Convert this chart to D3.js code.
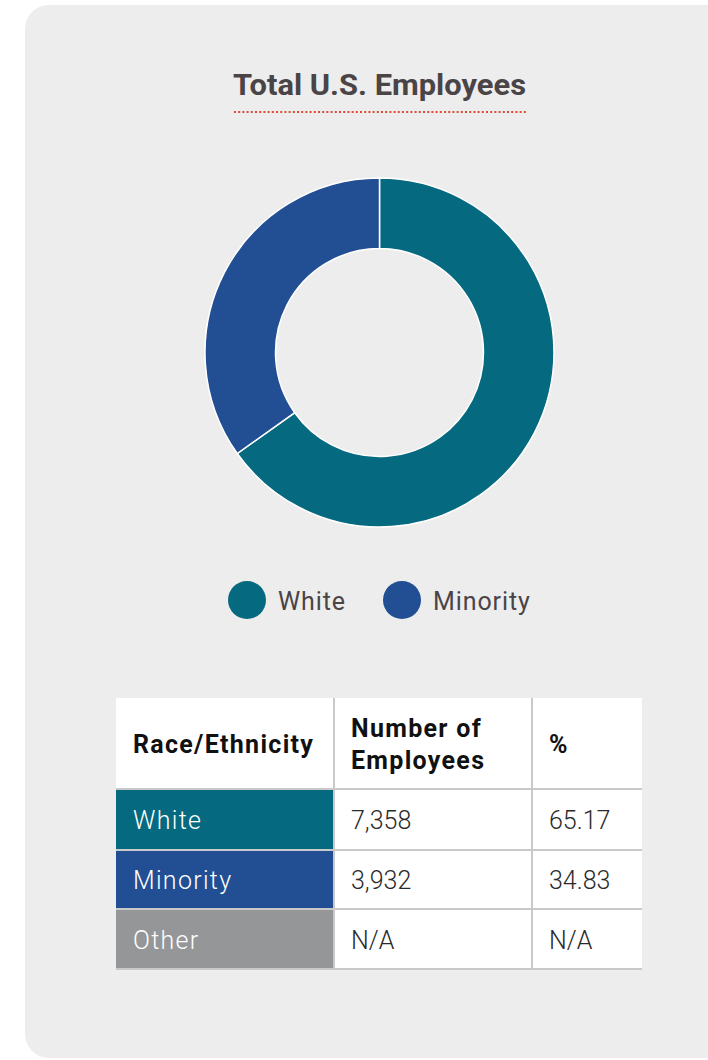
<!DOCTYPE html>
<html><head><meta charset="utf-8">
<script src="https://cdn.jsdelivr.net/npm/d3@7"></script>
<style>
html,body{margin:0;padding:0;background:#fff;}
svg{display:block;}
</style></head>
<body>
<svg id="chart" width="708" height="1060"></svg>
<script>
const title = "Total U.S. Employees";
const categories = ["White", "Minority"];
const employees = [7358, 3932];
const percents = [65.17, 34.83];
const tableCategories = ["White", "Minority", "Other"];
const tableNumbers = ["7,358", "3,932", "N/A"];
const tablePercents = ["65.17", "34.83", "N/A"];
const tableHeaders = [["Race/Ethnicity"], ["Number of", "Employees"], ["%"]];
const colors = ["#056a80", "#224e93", "#959698"];

const svg = d3.select("#chart");
const font = "Roboto, 'Noto Sans', sans-serif";
const textCol = "#4a4446";

// card
svg.append("rect").attr("x", 25).attr("y", 5).attr("width", 720).attr("height", 1053)
  .attr("rx", 24).attr("fill", "#ededed");

// title
svg.append("text").attr("x", 233).attr("y", 95).text(title)
  .attr("font-family", font).attr("font-weight", 700).attr("font-size", 30)
  .attr("fill", textCol).attr("textLength", 293).attr("lengthAdjust", "spacingAndGlyphs");
svg.append("line").attr("x1", 234).attr("x2", 527).attr("y1", 112).attr("y2", 112)
  .attr("stroke", "#e0483a").attr("stroke-width", 2).attr("stroke-dasharray", "2,2.2");

// donut
const cx = 379.5, cy = 352.5, rOuter = 174.5, rInner = 104;
const pie = d3.pie().sort(null).value(d => d);
const arc = d3.arc().innerRadius(rInner).outerRadius(rOuter);
const color = d3.scaleOrdinal().domain(categories).range(colors);
const g = svg.append("g").attr("transform", `translate(${cx},${cy})`);
g.selectAll("path").data(pie(employees)).join("path")
  .attr("d", arc).attr("fill", (d, i) => color(categories[i]))
  .attr("stroke", "#ffffff").attr("stroke-width", 1.5);

// legend
const legendX = [247, 402];
const lg = svg.append("g");
categories.forEach((c, i) => {
  lg.append("circle").attr("cx", legendX[i]).attr("cy", 600).attr("r", 19).attr("fill", color(c));
  lg.append("text").attr("x", legendX[i] + 31).attr("y", 610).text(c)
    .attr("font-family", font).attr("font-size", 25).attr("letter-spacing", 0.9).attr("fill", textCol);
});

// table
const colX = [116, 334, 532, 642];
const rowY = [698, 789, 850, 909, 969];
const tg = svg.append("g");
tg.append("rect").attr("x", colX[0]).attr("y", rowY[0]).attr("width", colX[3] - colX[0])
  .attr("height", rowY[4] - rowY[0]).attr("fill", "#ffffff");
tableCategories.forEach((c, i) => {
  tg.append("rect").attr("x", colX[0]).attr("y", rowY[i + 1]).attr("width", colX[1] - colX[0])
    .attr("height", rowY[i + 2] - rowY[i + 1]).attr("fill", colors[i]);
});
const gridCol = "#c9c9c9";
[1, 2].forEach(j => {
  tg.append("line").attr("x1", colX[j]).attr("x2", colX[j]).attr("y1", rowY[0]).attr("y2", rowY[4])
    .attr("stroke", gridCol).attr("stroke-width", 2);
});
[1, 2, 3, 4].forEach(k => {
  tg.append("line").attr("x1", colX[0]).attr("x2", colX[3]).attr("y1", rowY[k]).attr("y2", rowY[k])
    .attr("stroke", gridCol).attr("stroke-width", 2);
});
const headBase = [[753], [737, 769], [753]];
tableHeaders.forEach((h, j) => {
  h.forEach((line, k) => {
    tg.append("text").attr("x", colX[j] + 17).attr("y", headBase[j][k]).text(line)
      .attr("font-family", font).attr("font-weight", 700).attr("font-size", 25)
      .attr("letter-spacing", 1.3).attr("fill", "#111");
  });
});
const bodyBase = [829, 889, 949];
tableCategories.forEach((c, i) => {
  tg.append("text").attr("x", colX[0] + 17).attr("y", bodyBase[i]).text(c)
    .attr("font-family", font).attr("font-weight", 300).attr("font-size", 25)
    .attr("letter-spacing", 1.3).attr("fill", "#ffffff");
  tg.append("text").attr("x", colX[1] + 17).attr("y", bodyBase[i]).text(tableNumbers[i])
    .attr("font-family", font).attr("font-weight", 300).attr("font-size", 25).attr("fill", "#2a2a2a");
  tg.append("text").attr("x", colX[2] + 17).attr("y", bodyBase[i]).text(tablePercents[i])
    .attr("font-family", font).attr("font-weight", 300).attr("font-size", 25).attr("fill", "#2a2a2a");
});
</script>
</body></html>
